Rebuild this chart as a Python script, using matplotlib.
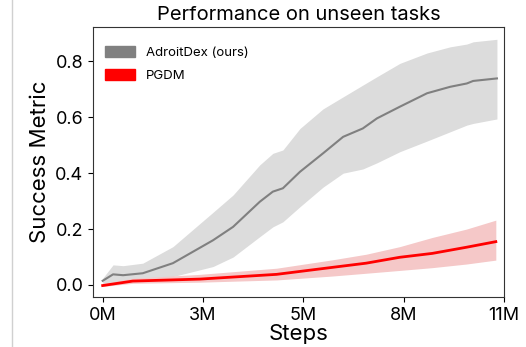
import matplotlib
matplotlib.use('Agg')
import matplotlib.pyplot as plt
import numpy as np
from matplotlib.patches import Patch
from matplotlib.lines import Line2D

plt.rcParams['font.family'] = ['Inter', 'DejaVu Sans']

# steps in millions
adroit_steps = [0, 0.28, 0.55, 1.08, 1.89, 2.97, 3.51, 4.23, 4.58, 4.85, 5.31,
                5.93, 6.47, 7.00, 7.38, 8.00, 8.73, 9.35, 9.80, 9.97, 10.61]
adroit_mean = [0.015, 0.038, 0.035, 0.042, 0.078, 0.16, 0.208, 0.298, 0.334, 0.346, 0.405,
               0.471, 0.53, 0.56, 0.596, 0.638, 0.686, 0.709, 0.721, 0.73, 0.739]
adroit_upper = [0.024, 0.072, 0.069, 0.078, 0.137, 0.26, 0.322, 0.43, 0.471, 0.483, 0.56,
                0.63, 0.673, 0.715, 0.745, 0.793, 0.83, 0.852, 0.862, 0.87, 0.879]
adroit_lower = [0.006, 0.01, 0.012, 0.018, 0.03, 0.066, 0.1, 0.173, 0.208, 0.226, 0.28,
                0.35, 0.4, 0.415, 0.437, 0.477, 0.515, 0.548, 0.572, 0.578, 0.594]

pgdm_steps = [0, 0.81, 2.61, 4.68, 6.18, 7.09, 7.99, 8.87, 9.79, 10.58]
pgdm_mean = [-0.002, 0.014, 0.021, 0.038, 0.063, 0.078, 0.099, 0.113, 0.135, 0.155]
pgdm_upper = [0.005, 0.024, 0.038, 0.06, 0.09, 0.11, 0.137, 0.17, 0.2, 0.232]
pgdm_lower = [-0.005, 0.006, 0.01, 0.018, 0.032, 0.042, 0.052, 0.062, 0.075, 0.089]

xticks = np.linspace(0, 10.8, 5)


def main():
    fig = plt.figure(figsize=(5.26, 3.47), dpi=100)
    ax = fig.add_axes([93 / 526, 50 / 347, 411 / 526, 270 / 347])

    ax.fill_between(adroit_steps, adroit_lower, adroit_upper, color='#dcdcdc', lw=0)
    ax.plot(adroit_steps, adroit_mean, color='#808080', lw=1.5)
    ax.fill_between(pgdm_steps, pgdm_lower, pgdm_upper, color='#f5c8c8', lw=0)
    ax.plot(pgdm_steps, pgdm_mean, color='#ff0000', lw=2)

    ax.set_xlim(-0.26, 10.8)
    ax.set_ylim(-0.043, 0.923)
    ax.set_xticks(xticks)
    ax.set_xticklabels(['%dM' % round(t) for t in xticks])
    ax.set_yticks([0.0, 0.2, 0.4, 0.6, 0.8])
    ax.tick_params(labelsize=13)
    for s in ax.spines.values():
        s.set_color('#333333')

    ax.set_xlabel('Steps', fontsize=16, labelpad=0)
    ax.set_ylabel('Success Metric', fontsize=16, labelpad=4)
    ax.set_title('Performance on unseen tasks', fontsize=14.5, pad=5)

    handles = [Patch(color='#808080', label='AdroitDex (ours)'),
               Patch(color='#ff0000', label='PGDM')]
    ax.legend(handles=handles, loc='upper left', frameon=False, fontsize=9.5,
              handlelength=2.3, handleheight=0.9, labelspacing=0.75,
              bbox_to_anchor=(0.0, 0.975))

    fig.add_artist(Line2D([12 / 526, 12 / 526], [0, 1], color='#d0d0d0', lw=1))

    fig.savefig('out.png', dpi=100)


if __name__ == '__main__':
    main()
